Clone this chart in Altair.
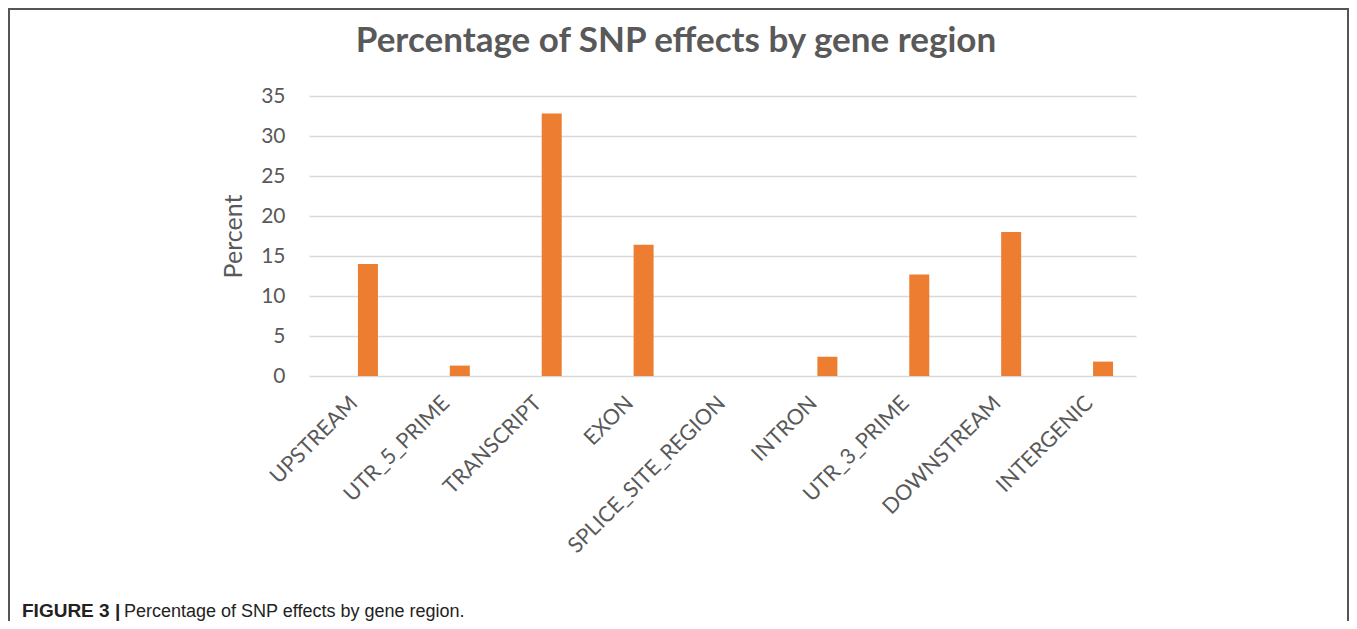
import altair as alt
import pandas as pd

categories = ["UPSTREAM", "UTR_5_PRIME", "TRANSCRIPT", "EXON", "SPLICE_SITE_REGION",
              "INTRON", "UTR_3_PRIME", "DOWNSTREAM", "INTERGENIC"]
percent = [14.0, 1.3, 32.8, 16.4, 0.0, 2.4, 12.7, 18.0, 1.8]
y_ticks = [0, 5, 10, 15, 20, 25, 30, 35]

title_text = "Percentage of SNP effects by gene region"
caption_bold = "FIGURE 3 |"
caption_rest = "Percentage of SNP effects by gene region."

df = pd.DataFrame({"region": categories, "percent": percent})

W, H = 827, 280
PAD_L, PAD_T = 301, 88
TOTAL_W, TOTAL_H = 1341, 613

GRAY = "#595959"
AXIS_FONT = "Lato"

bars = alt.Chart(df).mark_bar(color="#ED7D31", size=20, xOffset=13).encode(
    x=alt.X("region:N", sort=categories, title=None,
            scale=alt.Scale(paddingInner=0, paddingOuter=0),
            axis=alt.Axis(labelAngle=-45, labelAlign="right", labelBaseline="top",
                          labelFontSize=21.5, labelColor=GRAY, labelFont=AXIS_FONT,
                          labelPadding=16, labelOffset=-8, ticks=False, domain=False,
                          grid=False, labelOverlap=False, labelLimit=0)),
    y=alt.Y("percent:Q", title="Percent",
            scale=alt.Scale(domain=[0, 35], nice=False),
            axis=alt.Axis(values=y_ticks, labelFontSize=21, labelColor=GRAY,
                          labelFont=AXIS_FONT, labelPadding=24, ticks=False,
                          domain=False, grid=True, gridColor="#d9d9d9",
                          gridWidth=1.5, titleFontSize=25, titleFont=AXIS_FONT,
                          titleFontWeight="normal", titleColor=GRAY,
                          titlePadding=14)),
)

frame = alt.Chart(pd.DataFrame({"k": [0]})).mark_rect(
    fillOpacity=0, stroke="#555555", strokeWidth=2
).encode(
    x=alt.value(-PAD_L + 1), x2=alt.value(TOTAL_W - PAD_L - 1),
    y=alt.value(-PAD_T + 1), y2=alt.value(700),
)

title = alt.Chart(pd.DataFrame({"t": [title_text]})).mark_text(
    font="Lato", fontWeight="bold", fontSize=35, color=GRAY,
    align="center", baseline="alphabetic"
).encode(text="t:N", x=alt.value(676 - 309), y=alt.value(52 - 96))

cap1 = alt.Chart(pd.DataFrame({"t": [caption_bold]})).mark_text(
    font="Liberation Sans Narrow, Liberation Sans", fontWeight="bold", fontSize=19,
    color="#222222", align="left", baseline="alphabetic"
).encode(text="t:N", x=alt.value(22 - 309), y=alt.value(617 - 96))

cap2 = alt.Chart(pd.DataFrame({"t": [caption_rest]})).mark_text(
    font="Liberation Sans Narrow, Liberation Sans", fontSize=18,
    color="#222222", align="left", baseline="alphabetic"
).encode(text="t:N", x=alt.value(124 - 309), y=alt.value(617 - 96))

chart = alt.layer(frame, bars, title, cap1, cap2).properties(
    width=W, height=H,
    padding={"left": PAD_L, "top": PAD_T, "right": TOTAL_W - PAD_L - W,
             "bottom": TOTAL_H - PAD_T - H},
    autosize=alt.AutoSizeParams(type="none"),
    background="white",
).configure_view(stroke=None)

chart.save("out.html", embed_options={"renderer": "svg", "actions": False})
